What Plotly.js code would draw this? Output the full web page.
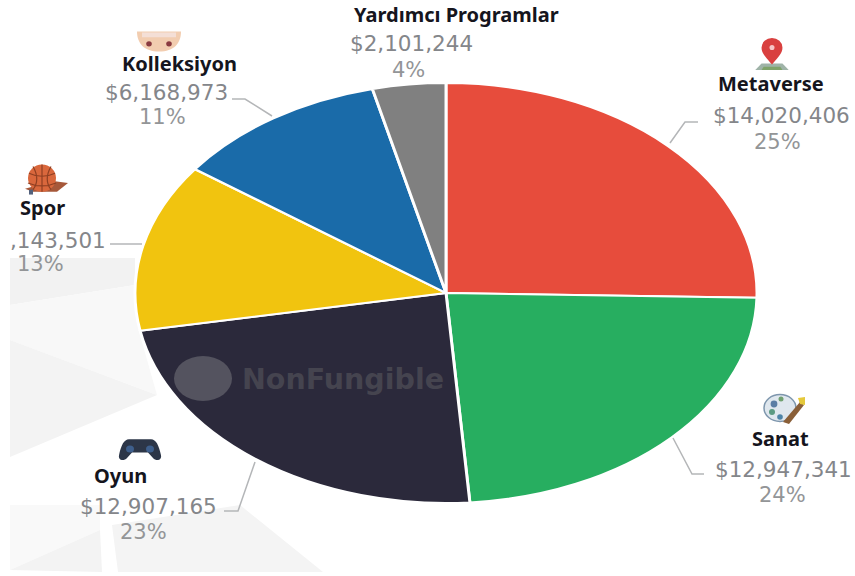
<!DOCTYPE html>
<html>
<head>
<meta charset="utf-8">
<script src="https://cdn.plot.ly/plotly-3.0.1.min.js"></script>
<style>html,body{margin:0;padding:0;background:#fff;overflow:hidden}#chart{width:855px;height:576px}</style>
</head>
<body>
<div id="chart"></div>
<script>
// ---- data ----
const categories = ["Metaverse", "Sanat", "Oyun", "Spor", "Kolleksiyon", "Yardımcı Programlar"];
const amounts    = [14020406, 12947341, 12907165, 7143501, 6168973, 2101244];
const amountText = ["$14,020,406", "$12,947,341", "$12,907,165", ",143,501", "$6,168,973", "$2,101,244"];
const shareText  = ["25%", "24%", "23%", "13%", "11%", "4%"];
const sliceColors = ["#E74C3C", "#27AE60", "#2B293B", "#F1C40F", "#1A6BA9", "#808080"];

// ---- layout helpers (pixels of the 855x576 page) ----
const W = 855, H = 576;
const px = x => x / W, py = y => 1 - y / H;
const CX = 446, CY = 293, RY = 210, RX = 311;

// label anchor points: [nameX, nameY, amountX, amountY, shareX, shareY]
const labelPos = [
  [771, 83, 781, 116, 777, 142],
  [780, 438, 783, 469, 782, 495],
  [121, 475, 148, 506, 143, 532],
  [42, 207, 58, 240, 40, 264],
  [179, 63, 166, 92, 162, 117],
  [456, 15, 411, 44, 408, 70]
];
const leaders = [
  [[670,143],[685,122],[698,122]],
  [[673,438],[692,474],[704,474]],
  [[224,511],[238,511],[255,462]],
  [[110,244],[142,244]],
  [[232,99],[245,99],[272,116]]
];
const backdrop = [
  ["#f2f2f2", [[10,258],[135,258],[135,285],[10,305]]],
  ["#f8f8f8", [[10,305],[135,285],[140,335],[157,395],[10,340]]],
  ["#f3f3f3", [[10,340],[157,395],[10,457]]],
  ["#f9f9f9", [[10,505],[100,505],[100,530],[10,570]]],
  ["#f3f3f3", [[10,570],[100,530],[102,572]]],
  ["#f4f4f4", [[118,572],[112,525],[240,505],[323,572]]]
];

const svgUri = s => "data:image/svg+xml;utf8," + encodeURIComponent(s);
const icons = {
  pin: `<svg xmlns="http://www.w3.org/2000/svg" viewBox="0 0 44 32"><path d="M6 30 L12 24 H32 L38 30 Z" fill="#9fb3a8"/><path d="M14 27 H30 L32 30 H12 Z" fill="#7fa36a"/><path d="M22 25 C15 17 12 14 12 9 A10 9 0 0 1 32 9 C32 14 29 17 22 25 Z" fill="#d9403f"/><circle cx="22" cy="9" r="2.4" fill="#f6c6c6"/></svg>`,
  palette: `<svg xmlns="http://www.w3.org/2000/svg" viewBox="0 0 46 32"><ellipse cx="18" cy="15" rx="16" ry="13.5" fill="#dfe7ee" stroke="#7e96ad" stroke-width="1.5"/><circle cx="12" cy="11" r="3.4" fill="#5b7ea5"/><circle cx="10" cy="19" r="3" fill="#5b9a82"/><circle cx="18" cy="24" r="2.8" fill="#4e84a8"/><circle cx="19" cy="6" r="2.5" fill="#70a070"/><path d="M21 29 L38 9 L42 12 L27 31 Z" fill="#8a5f38"/><path d="M36 5 L43 4 L43 12 L38 11 Z" fill="#e5c93b"/></svg>`,
  pad: `<svg xmlns="http://www.w3.org/2000/svg" viewBox="0 0 46 28"><path d="M12 3 H34 C39 3 42 10 44 21 C45 27 39 28 36 24 L31 18 H15 L10 24 C7 28 1 27 2 21 C4 10 7 3 12 3 Z" fill="#2c3648"/><circle cx="13" cy="14" r="4" fill="#3e5f8c"/><circle cx="33" cy="14" r="4" fill="#3e5f8c"/></svg>`,
  ball: `<svg xmlns="http://www.w3.org/2000/svg" viewBox="0 0 46 34"><path d="M2 26 L10 29 H34 L45 20 L30 18 Z" fill="#a6583a"/><circle cx="19" cy="15" r="14" fill="#d9673c"/><path d="M6 10 C14 14 24 14 32 10 M5 20 C14 24 24 24 33 20 M19 1 V29 M10 3 C15 12 15 20 10 27 M28 3 C23 12 23 20 28 27" fill="none" stroke="#8f3f22" stroke-width="1.2"/><rect x="6" y="27" width="4" height="5" fill="#52617c"/></svg>`,
  snout: `<svg xmlns="http://www.w3.org/2000/svg" viewBox="0 0 46 24"><path d="M1 2 H45 C45 14 38 23 23 23 C8 23 1 14 1 2 Z" fill="#f2cdb0"/><path d="M6 3 H40 V8 H6 Z" fill="#f4dfd6"/><circle cx="13" cy="15" r="2.8" fill="#8a3a40"/><circle cx="33" cy="15" r="2.8" fill="#8a3a40"/></svg>`
};
const iconPlacement = [
  [icons.pin, 772, 55, 46, 34],
  [icons.palette, 785, 409, 46, 32],
  [icons.pad, 140, 449, 46, 25],
  [icons.ball, 46, 180, 46, 33],
  [icons.snout, 159, 41, 46, 23]
];

// ---- annotations ----
const annotations = [];
const addText = (text, x, y, size, color, family, bold) => annotations.push({
  text: bold ? "<b>" + text + "</b>" : text,
  xref: "paper", yref: "paper", x: px(x), y: py(y),
  xanchor: "center", yanchor: "middle", showarrow: false,
  font: {size, color, family}
});
const NAME = "Noto Sans, sans-serif", NUM = "DejaVu Sans, sans-serif";
categories.forEach((c, i) => {
  const p = labelPos[i];
  addText(c, p[0], p[1], 20, "#15151d", NAME, true);
  addText(amountText[i], p[2], p[3], 21.5, "#84868a", NUM, false);
  addText(shareText[i], p[4], p[5], 21, "#939597", NUM, false);
});
addText("NonFungible", 343, 379, 28.5, "#45444f", NUM, true);

// ---- shapes ----
const toPath = pts => "M" + pts.map(q => px(q[0]) + "," + py(q[1])).join("L");
const shapes = [];
backdrop.forEach(b => shapes.push({
  type: "path", xref: "paper", yref: "paper", layer: "below",
  path: toPath(b[1]) + "Z", fillcolor: b[0], line: {width: 0}
}));
leaders.forEach(l => shapes.push({
  type: "path", xref: "paper", yref: "paper", layer: "above",
  path: toPath(l), line: {color: "#b4b6b8", width: 1.5}
}));
shapes.push({
  type: "circle", xref: "paper", yref: "paper", layer: "above",
  x0: px(174), x1: px(232), y0: py(401), y1: py(356),
  fillcolor: "#54535f", line: {width: 0}
});

const images = iconPlacement.map(a => ({
  source: svgUri(a[0]), xref: "paper", yref: "paper",
  x: px(a[1]), y: py(a[2]), sizex: a[3] / W, sizey: a[4] / H,
  xanchor: "center", yanchor: "middle", sizing: "stretch", layer: "above"
}));

const trace = {
  type: "pie", labels: categories, values: amounts, sort: false,
  direction: "clockwise", rotation: 0, textinfo: "none", hoverinfo: "label+value+percent",
  marker: {colors: sliceColors, line: {color: "#ffffff", width: 2}},
  domain: {x: [px(CX - RY), px(CX + RY)], y: [py(CY + RY), py(CY - RY)]}
};
const layout = {
  width: W, height: H, margin: {l: 0, r: 0, t: 0, b: 0},
  paper_bgcolor: "#ffffff", showlegend: false,
  annotations, shapes, images
};
const stretchPie = () => {
  const g = document.querySelector("#chart .pielayer");
  if (g) g.setAttribute("transform",
    `translate(${CX},0) scale(${RX / RY},1) translate(${-CX},0)`);
};
const gd = document.getElementById("chart");
Plotly.newPlot(gd, [trace], layout, {displayModeBar: false, responsive: false}).then(() => {
  stretchPie();
  gd.on("plotly_afterplot", stretchPie);
});
</script>
</body>
</html>
